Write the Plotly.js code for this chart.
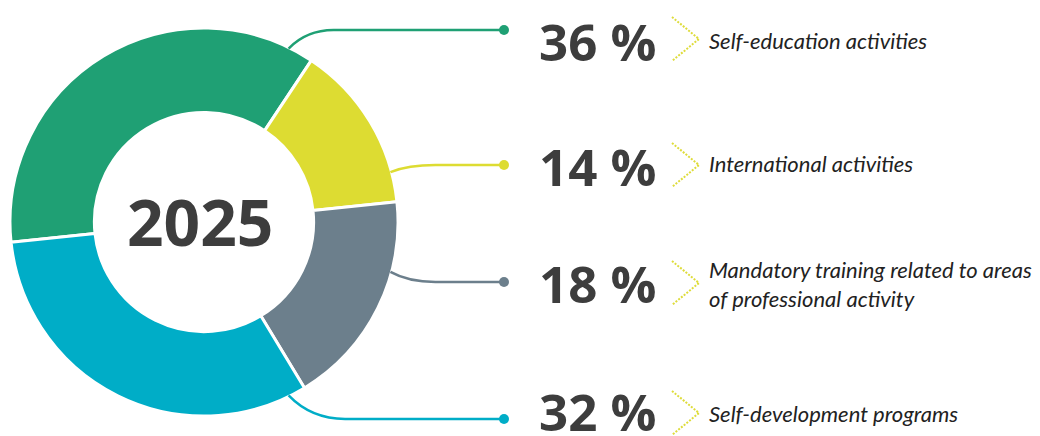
<!DOCTYPE html>
<html>
<head>
<meta charset="utf-8">
<script src="https://cdn.plot.ly/plotly-3.0.1.min.js"></script>
<style>html,body{margin:0;padding:0;background:#fff;}#chart{width:1040px;height:436px;}</style>
</head>
<body>
<div id="chart"></div>
<script>
// ---- data ----
const year = "2025";
const labels = ["Self-education activities", "International activities", "Mandatory training related to areas<br>of professional activity", "Self-development programs"];
const values = [36, 14, 18, 32];
const colors = ["#1fa074", "#dddc32", "#6c7f8c", "#00adc7"];

// ---- layout constants (pixels) ----
const W = 1040, H = 436;
const CX = 204, CY = 222, R = 194, HOLE = 0.565;
const leaderAngles = [26, 75, 105, 154];      // where leader lines leave the ring
const rowDotY = [30, 165, 282, 419];           // dot / horizontal line y
const rowPctY = [41, 166, 283, 411];
const rowLabelY = [40, 163, 284, 413];
const rowChevY = [39, 165, 283, 413];
const dotX = 504, pctX = 537, labelX = 707, chevX = 672;
const textColor = "#3d3d3d";
const chevColor = "#dedc3a";

const traces = [];
traces.push({
  type: "pie",
  values: values,
  labels: labels,
  sort: false,
  direction: "clockwise",
  rotation: -96,
  hole: HOLE,
  textinfo: "none",
  hoverinfo: "skip",
  showlegend: false,
  marker: {colors: colors, line: {color: "#ffffff", width: 3}},
  domain: {x: [(CX - R) / W, (CX + R) / W], y: [(H - CY - R) / H, (H - CY + R) / H]}
});

const shapes = [];
const annotations = [];
values.forEach((v, i) => {
  const a = leaderAngles[i] * Math.PI / 180;
  const sx = CX + (R - 1) * Math.sin(a), sy = CY - (R - 1) * Math.cos(a);
  const ey = rowDotY[i];
  const bend = Math.abs(ey - sy);
  const ex = sx + Math.max(bend * 2.4, 45);
  const qx = sx + (ex - sx) * 0.4;
  shapes.push({
    type: "path", xref: "x", yref: "y",
    path: `M ${sx} ${sy} Q ${qx} ${ey} ${ex} ${ey} L ${dotX} ${ey}`,
    line: {color: colors[i], width: 2.5}
  });
  // chevron
  const cy = rowChevY[i];
  traces.push({
    type: "scatter", mode: "lines", xaxis: "x", yaxis: "y",
    x: [chevX, chevX + 27, chevX], y: [cy - 22, cy, cy + 22],
    line: {color: chevColor, width: 2, dash: "2px,1.5px"},
    hoverinfo: "skip", showlegend: false
  });
  annotations.push({
    xref: "x", yref: "y", x: pctX, y: rowPctY[i], xanchor: "left", yanchor: "middle",
    text: v + " %", showarrow: false,
    font: {family: "Open Sans", size: 51, color: textColor, weight: 700}
  });
  annotations.push({
    xref: "x", yref: "y", x: labelX, y: rowLabelY[i], xanchor: "left", yanchor: "middle",
    text: labels[i], showarrow: false, align: "left",
    font: {family: "Lato", size: 22, color: "#222222", style: "italic"}
  });
});
traces.push({
  type: "scatter", mode: "markers", xaxis: "x", yaxis: "y",
  x: values.map(() => dotX), y: rowDotY,
  marker: {color: colors, size: 10},
  hoverinfo: "skip", showlegend: false
});
annotations.push({
  xref: "x", yref: "y", x: 200, y: 221, xanchor: "center", yanchor: "middle",
  text: year, showarrow: false,
  font: {family: "Open Sans", size: 64, color: textColor, weight: 700}
});

const layout = {
  width: W, height: H,
  margin: {l: 0, r: 0, t: 0, b: 0, pad: 0},
  paper_bgcolor: "#ffffff", plot_bgcolor: "rgba(0,0,0,0)",
  xaxis: {range: [0, W], visible: false, fixedrange: true, domain: [0, 1]},
  yaxis: {range: [H, 0], visible: false, fixedrange: true, domain: [0, 1]},
  shapes: shapes,
  annotations: annotations,
  showlegend: false
};
Plotly.newPlot("chart", traces, layout, {staticPlot: true, displayModeBar: false});
</script>
</body>
</html>
